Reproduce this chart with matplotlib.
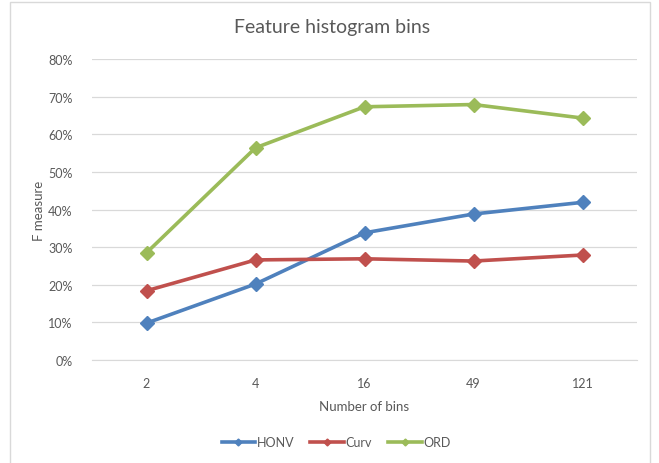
import numpy as np
import matplotlib
matplotlib.use("Agg")
from matplotlib import pyplot as plt
from matplotlib.patches import Rectangle
from matplotlib.ticker import PercentFormatter

bins = ["2", "4", "16", "49", "121"]
honv = [9.8, 20.2, 33.8, 38.8, 41.9]
curv = [18.4, 26.6, 26.9, 26.3, 27.9]
ord_ = [28.5, 56.4, 67.3, 67.9, 64.3]

plt.rcParams['font.family'] = ['Lato', 'DejaVu Sans']
textcol = "#595959"

fig = plt.figure(figsize=(6.59, 4.64), dpi=100)
fig.patches.append(Rectangle((10 / 659, -0.01), 640 / 659, 1 - 3 / 464 + 0.01,
                             transform=fig.transFigure, fill=False,
                             edgecolor="#D9D9D9", linewidth=1))
ax = fig.add_axes([92 / 659, 103 / 464, 545 / 659, 301 / 464])

x = np.arange(len(bins))
for vals, col, name in [(honv, "#4F81BD", "HONV"),
                        (curv, "#C0504D", "Curv"),
                        (ord_, "#9BBB59", "ORD")]:
    ax.plot(x, vals, color=col, linewidth=2.6, marker="D", markersize=7,
            label=name)

ax.set_xlim(-0.5, len(bins) - 0.5)
ax.set_ylim(0, 80)
ax.set_yticks(np.arange(0, 81, 10))
ax.yaxis.set_major_formatter(PercentFormatter(decimals=0))
ax.set_xticks(x)
ax.set_xticklabels(bins)
ax.grid(axis="y", color="#D9D9D9", linewidth=0.9)
ax.set_axisbelow(True)
for s in ["top", "right", "left"]:
    ax.spines[s].set_visible(False)
ax.spines["bottom"].set_color("#D9D9D9")
ax.tick_params(length=0, colors=textcol, labelsize=9)
ax.tick_params(axis="x", pad=12)
ax.tick_params(axis="y", pad=14)

fig.text(332 / 659, 1 - 28 / 464, "Feature histogram bins", fontsize=14,
         color=textcol, ha="center", va="center")
ax.set_xlabel("Number of bins", fontsize=9.5, color=textcol, labelpad=8)
ax.set_ylabel("F measure", fontsize=9.5, color=textcol, labelpad=2)

fig.legend(*ax.get_legend_handles_labels(), loc="center",
           bbox_to_anchor=(336 / 659, 1 - 443 / 464), ncol=3,
           frameon=False, fontsize=9, labelcolor=textcol, handlelength=2.7,
           markerscale=0.5, columnspacing=1.3, handletextpad=0.1)

plt.savefig("out.png", dpi=100)
